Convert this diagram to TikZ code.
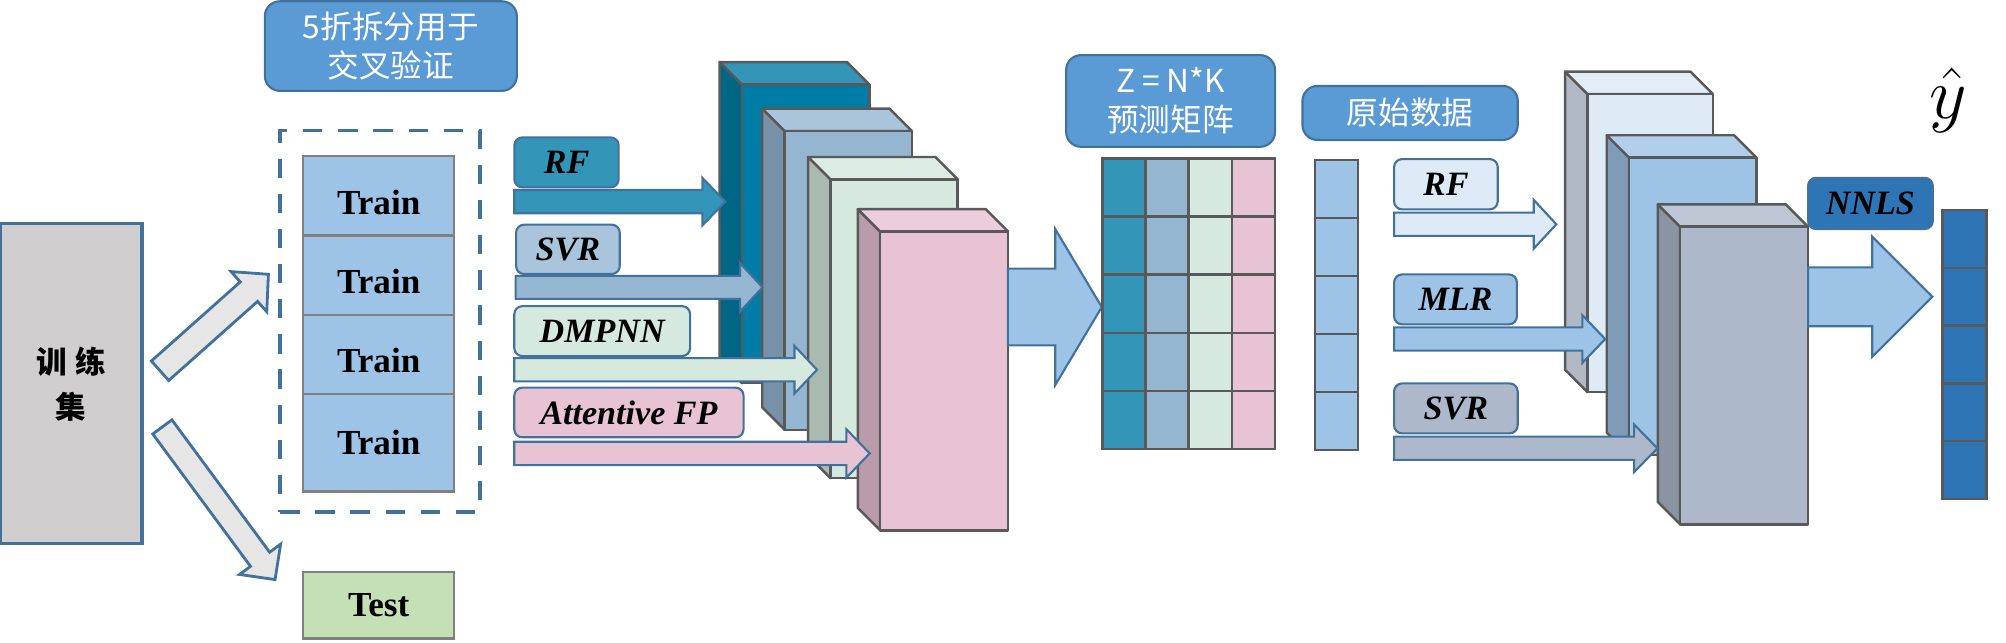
\documentclass[tikz,border=0pt]{standalone}
\usepackage{fontspec}
\setmainfont{Liberation Serif}
\newfontfamily\cjk{Noto Sans CJK SC}
\usetikzlibrary{calc}

\definecolor{edgeblue}{HTML}{41719C}
\definecolor{titleblue}{HTML}{5B9BD5}
\definecolor{trainblue}{HTML}{9DC3E6}
\definecolor{testgreen}{HTML}{C5E0B4}
\definecolor{setgray}{HTML}{D0CECE}
\definecolor{arrowgray}{HTML}{E7E6E6}
\definecolor{linegray}{HTML}{595959}
\definecolor{tealfront}{HTML}{007DA6}
\definecolor{tealside}{HTML}{006685}
\definecolor{tealtop}{HTML}{3396B9}
\definecolor{svrfront}{HTML}{94B6D0}
\definecolor{svrside}{HTML}{7792A8}
\definecolor{svrtop}{HTML}{A9C4DB}
\definecolor{mintfront}{HTML}{D6E9DF}
\definecolor{mintside}{HTML}{ABBAB1}
\definecolor{minttop}{HTML}{DCECE3}
\definecolor{pinkfront}{HTML}{E8C3D4}
\definecolor{pinkside}{HTML}{BA9BA9}
\definecolor{pinktop}{HTML}{EDCDDC}
\definecolor{skyfront}{HTML}{DEEBF7}
\definecolor{skyside}{HTML}{B1BAC4}
\definecolor{skytop}{HTML}{E3EDF8}
\definecolor{blueside}{HTML}{7E9CB8}
\definecolor{bluetop}{HTML}{B1CFEB}
\definecolor{slatefront}{HTML}{ADB9CA}
\definecolor{slateside}{HTML}{8A94A2}
\definecolor{slatetop}{HTML}{BDC7D5}
\definecolor{nnlsblue}{HTML}{2E75B6}

\newcommand{\pxu}{0.12793mm}

\newcommand{\blockarrow}[6]{%
  \path ($(#3)!#6*\pxu!(#2)$) coordinate (hb);
  \draw[#1] ($(#2)!#4*\pxu!90:(#3)$) -- ($(hb)!#4*\pxu!90:(#3)$)
    -- ($(hb)!#5*\pxu!90:(#3)$) -- (#3)
    -- ($(hb)!#5*\pxu!-90:(#3)$) -- ($(hb)!#4*\pxu!-90:(#3)$)
    -- ($(#2)!#4*\pxu!-90:(#3)$) -- cycle;
}

\newcommand{\layerbox}[7]{%
  \draw[cubeline, fill=#6] (#1,#2) -- ++(-17.5,-17.5) -- ++(0,#4) -- ++(17.5,17.5) -- cycle;
  \draw[cubeline, fill=#7] (#1,#2) -- ++(-17.5,-17.5) -- ++(#3,0) -- ++(17.5,17.5) -- cycle;
  \draw[cubeline, fill=#5] (#1,#2) rectangle ++(#3,#4);
}

\tikzset{
  cubeline/.style={draw=linegray, line width=0.7pt, line join=round},
  cell/.style={draw=linegray, line width=0.7pt},
  flow/.style={draw=edgeblue, line width=0.6pt, line join=miter},
  labelbox/.style={draw=edgeblue, line width=0.6pt, rounded corners=0.8mm, inner sep=0pt,
    font=\fontsize{9.7}{10}\selectfont\bfseries\itshape},
  titlebox/.style={draw=edgeblue, fill=titleblue, line width=0.6pt, rounded corners=1.5mm,
    inner sep=0pt, text=white, align=center, font=\fontsize{9}{11.2}\selectfont\cjk},
  trainbox/.style={draw=gray, fill=trainblue, line width=0.7pt, inner sep=0pt,
    minimum width=118*\pxu, font=\fontsize{10}{10}\selectfont\bfseries},
}

\begin{document}
\begin{tikzpicture}[x=\pxu, y=-\pxu]
\useasboundingbox (0,0) rectangle (1568,502);

\node[draw=edgeblue, fill=setgray, line width=0.9pt, minimum width=111*\pxu, minimum height=250*\pxu,
  align=center, font=\fontsize{8.7}{12.9}\selectfont\cjk\bfseries] (trainset) at (55.5,300) {训\hspace{2.5pt}练\\集};

\coordinate (uptail) at (125.1,289.8);
\coordinate (uptip) at (209.8,214.4);
\coordinate (downtail) at (126.9,333.7);
\coordinate (downtip) at (215,453);
\blockarrow{flow, fill=arrowgray, line width=0.8pt}{uptail}{uptip}{10.2}{21}{20.4}
\blockarrow{flow, fill=arrowgray, line width=0.8pt}{downtail}{downtip}{9.3}{20}{19.7}

\node[titlebox, minimum width=197*\pxu, minimum height=70*\pxu] (cvtitle) at (305.5,36) {5折拆分用于\\交叉验证};
\node[draw=edgeblue, line width=1.1pt, dash pattern=on 5.5pt off 4.5pt,
  minimum width=156*\pxu, minimum height=298*\pxu] (fold) at (297,251) {};

\node[trainbox, minimum height=62*\pxu, text height=29*\pxu, text depth=0pt] (train1) at (296,153) {Train};
\node[trainbox, minimum height=62*\pxu, text height=29*\pxu, text depth=0pt] (train2) at (296,215) {Train};
\node[trainbox, minimum height=62*\pxu, text height=29*\pxu, text depth=0pt] (train3) at (296,277) {Train};
\node[trainbox, minimum height=76*\pxu] (train4) at (296,346) {Train};
\node[trainbox, fill=testgreen, minimum height=52*\pxu] (test) at (296,473) {Test};

\layerbox{580}{66}{99.5}{233.5}{tealfront}{tealside}{tealtop}
\layerbox{613.3}{102.4}{99.5}{233.5}{svrfront}{svrside}{svrtop}
\layerbox{649.1}{140.2}{99.5}{233.5}{mintfront}{mintside}{minttop}
\layerbox{688}{181}{100}{233.5}{pinkfront}{pinkside}{pinktop}

\node[labelbox, fill=tealtop, minimum width=81.5*\pxu, minimum height=39*\pxu] (rf) at (442.8,126.9) {RF};
\node[labelbox, fill=svrtop, minimum width=81*\pxu, minimum height=38.6*\pxu] (svr) at (443.9,194.9) {SVR};
\node[labelbox, fill=mintfront, minimum width=137.4*\pxu, minimum height=39*\pxu] (dmpnn) at (470.7,258.8) {DMPNN};
\node[labelbox, fill=pinkfront, minimum width=179.2*\pxu, minimum height=38.8*\pxu] (afp) at (491.6,322.4) {Attentive FP};

\coordinate (rftail) at (402,157.6);
\coordinate (rftip) at (567,157.6);
\coordinate (svrtail) at (403,224.6);
\coordinate (svrtip) at (596,224.6);
\coordinate (dmpnntail) at (402,289);
\coordinate (dmpnntip) at (638.6,289);
\coordinate (afptail) at (402,354.4);
\coordinate (afptip) at (679.8,354.4);
\blockarrow{flow, fill=tealtop}{rftail}{rftip}{9.1}{18.6}{18}
\blockarrow{flow, fill=svrfront}{svrtail}{svrtip}{9}{18.9}{17.5}
\blockarrow{flow, fill=mintfront}{dmpnntail}{dmpnntip}{9.1}{18.6}{17.6}
\blockarrow{flow, fill=pinkfront}{afptail}{afptip}{9.1}{18.9}{18.2}

\coordinate (stacktail) at (787.8,240);
\coordinate (stacktip) at (861.2,240);
\blockarrow{flow, fill=trainblue}{stacktail}{stacktip}{30}{61}{36.4}

\node[titlebox, minimum width=163.3*\pxu, minimum height=71.7*\pxu] (zbox) at (915,78.9) {Z = N*K\\预测矩阵};
\foreach \c/\col in {0/tealtop,1/svrfront,2/mintfront,3/pinkfront}
  \foreach \r in {0,...,4}
    \draw[cell, fill=\col] ({861.7+33.7*\c},{123.8+45.45*\r}) rectangle ++(33.7,45.45);

\node[titlebox, minimum width=168.3*\pxu, minimum height=42.2*\pxu] (rawbox) at (1102.2,88.3) {原始数据};
\foreach \r in {0,...,4}
  \draw[cell, fill=trainblue] (1028,{125+45.36*\r}) rectangle ++(33.3,45.36);

\layerbox{1240.8}{73.5}{98}{233}{skyfront}{skyside}{skytop}
\layerbox{1273.4}{123.2}{99.5}{232.5}{trainblue}{blueside}{bluetop}
\layerbox{1313.3}{177.2}{100}{232.7}{slatefront}{slateside}{slatetop}

\node[labelbox, fill=skyfront, minimum width=81*\pxu, minimum height=39.3*\pxu] (rfmeta) at (1130.2,144) {RF};
\node[labelbox, fill=trainblue, minimum width=96*\pxu, minimum height=39*\pxu] (mlr) at (1137.7,234) {MLR};
\node[labelbox, fill=slatefront, minimum width=96.6*\pxu, minimum height=39*\pxu] (svrmeta) at (1138,319.2) {SVR};

\coordinate (rfmetatail) at (1089.7,175.3);
\coordinate (rfmetatip) at (1216.5,175.3);
\coordinate (mlrtail) at (1089.7,265);
\coordinate (mlrtip) at (1254.7,265);
\coordinate (svrmetatail) at (1089.7,350.4);
\coordinate (svrmetatip) at (1295.5,350.4);
\blockarrow{flow, fill=skyfront}{rfmetatail}{rfmetatip}{9.1}{19.1}{17.7}
\blockarrow{flow, fill=trainblue}{mlrtail}{mlrtip}{9.1}{18.6}{17.8}
\blockarrow{flow, fill=slatefront}{svrmetatail}{svrmetatip}{9.1}{18.6}{18.2}

\node[labelbox, fill=nnlsblue, minimum width=97.5*\pxu, minimum height=40*\pxu] (nnls) at (1462,159) {NNLS};
\coordinate (outtail) at (1413.3,232);
\coordinate (outtip) at (1510.4,232);
\blockarrow{flow, fill=trainblue}{outtail}{outtip}{23}{47}{47}

\foreach \r in {0,...,4}
  \draw[cell, fill=nnlsblue] (1518.5,{164.2+45.16*\r}) rectangle ++(34.3,45.16);

\node[font=\fontsize{21}{21}\selectfont, inner sep=0pt] (yhat) at (1522.5,78) {$\hat{y}$};
\end{tikzpicture}
\end{document}
